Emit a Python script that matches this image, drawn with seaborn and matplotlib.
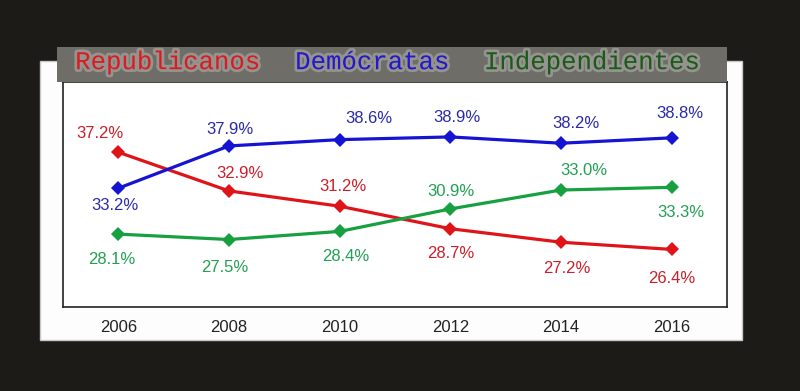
import pandas as pd
import matplotlib.pyplot as plt
import matplotlib.patheffects as pe
from matplotlib.patches import Rectangle
import seaborn as sns

years = [2006, 2008, 2010, 2012, 2014, 2016]
republicanos = [37.2, 32.9, 31.2, 28.7, 27.2, 26.4]
democratas = [33.2, 37.9, 38.6, 38.9, 38.2, 38.8]
independientes = [28.1, 27.5, 28.4, 30.9, 33.0, 33.3]
parties = ["Republicanos", "Demócratas", "Independientes"]

line_colors = {"Republicanos": "#e01418", "Demócratas": "#1414d2", "Independientes": "#16a040"}
label_colors = {"Republicanos": "#cc1f2a", "Demócratas": "#2a2aa8", "Independientes": "#22a052"}
title_colors = {"Republicanos": "#d81c22", "Demócratas": "#2418c8", "Independientes": "#1c5a1c"}

# label offsets from each point, in pixels (x right, y up)
label_offsets = {
    "Republicanos": [(-18, 19), (11, 17), (3, 20), (0, -25), (6, -26), (0, -29)],
    "Demócratas": [(-3, -17), (1, 16), (29, 21), (7, 19), (15, 20), (8, 24)],
    "Independientes": [(-7, -25), (-4, -28), (6, -25), (1, 17), (23, 20), (9, -25)],
}

NARROW = ["Liberation Sans Narrow", "Liberation Sans"]


def build_frame():
    values = {"Republicanos": republicanos, "Demócratas": democratas,
              "Independientes": independientes}
    rows = []
    for party in parties:
        for year, pct in zip(years, values[party]):
            rows.append({"year": year, "pct": pct, "party": party})
    return pd.DataFrame(rows)


def plot_chart(df):
    fig = plt.figure(figsize=(8, 3.91), dpi=100)
    fig.patch.set_facecolor("#1d1b18")

    # white card behind the chart
    fig.add_artist(Rectangle((0.05, 0.130), 0.8775, 0.7136, transform=fig.transFigure,
                             facecolor="#fdfdfd", edgecolor="#c8c8c8", linewidth=1, zorder=-1))

    ax = fig.add_axes([0.07875, 0.2148, 0.83, 0.5754])
    sns.lineplot(data=df, x="year", y="pct", hue="party", hue_order=parties,
                 palette=line_colors, marker="D", markersize=7.5, markeredgewidth=0,
                 linewidth=2.3, legend=False, ax=ax)

    for party in parties:
        sub = df[df["party"] == party]
        for (_, row), (dx, dy) in zip(sub.iterrows(), label_offsets[party]):
            ax.annotate(f"{row['pct']:.1f}%", (row["year"], row["pct"]),
                        xytext=(dx, dy), textcoords="offset pixels",
                        ha="center", va="center", color=label_colors[party],
                        fontfamily=NARROW, fontsize=12)

    ax.set_xlim(2005, 2017)
    ax.set_ylim(20, 45)
    ax.set_xticks(years)
    ax.set_xticklabels([str(y) for y in years], fontfamily=NARROW,
                       fontsize=12, color="#222222")
    ax.set_yticks([])
    ax.tick_params(axis="x", length=0, pad=9)
    ax.set_xlabel("")
    ax.set_ylabel("")
    ax.set_facecolor("white")
    for side in ["left", "bottom", "right", "top"]:
        ax.spines[side].set_color("#222222")
        ax.spines[side].set_linewidth(1.2)

    # gray header bar with the series names
    fig.add_artist(Rectangle((0.07125, 0.790), 0.8375, 0.0895, transform=fig.transFigure,
                             facecolor="#6e6d68", edgecolor="none", zorder=5))
    title_x = [0.094, 0.369, 0.605]
    glow = [pe.withStroke(linewidth=4, foreground="#b4b3ad", alpha=0.55)]
    for party, x in zip(parties, title_x):
        t = fig.text(x, 0.841, party, ha="left", va="center", color=title_colors[party],
                     fontfamily="Liberation Mono", fontsize=18.5, zorder=6)
        t.set_path_effects(glow)

    fig.savefig("out.png", dpi=100, facecolor=fig.get_facecolor())


if __name__ == "__main__":
    df = build_frame()
    plot_chart(df)
